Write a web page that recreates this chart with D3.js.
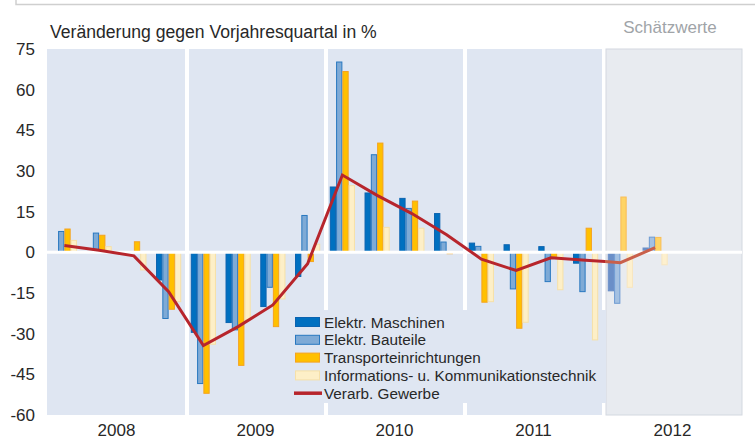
<!DOCTYPE html>
<html>
<head>
<meta charset="utf-8">
<script src="https://cdn.jsdelivr.net/npm/d3@7"></script>
<style>
  body { margin: 0; background: #fff; }
  text { font-family: "Liberation Sans", Arial, sans-serif; fill: #282828; }
</style>
</head>
<body>
<div id="chart"></div>
<script>
const years = ["2008", "2009", "2010", "2011", "2012"];
const quarters = years.flatMap(y => ["Q1", "Q2", "Q3", "Q4"].map(q => y + q));
const estimateYear = "2012";
const yTicks = [75, 60, 45, 30, 15, 0, -15, -30, -45, -60];

const seriesNames = ["Elektr. Maschinen", "Elektr. Bauteile", "Transporteinrichtungen",
  "Informations- u. Kommunikationstechnik"];
const lineName = "Verarb. Gewerbe";

// values per quarter, 2008Q1 .. 2012Q4
const maschinen = [0, 0, 0, -10.2, -29.5, -25.9, -20, -8.9, 24.1, 21.9, 19.9, 14.3,
  3.4, 2.8, 2.1, -4, -14.2, 1.6, null, null];
const bauteile = [7.7, 7.1, 0, -24.4, -48.4, -28.6, -12.9, 13.6, 70.2, 36, 16.2, 3.8,
  2.2, -13.5, -10.8, -14.5, -18.8, 5.6, null, null];
const transport = [8.6, 6.3, 3.9, -21, -52, -41.7, -27.4, -3.4, 66.7, 40.3, 18.9, -0.5,
  -18.4, -28, -1.5, 8.9, 20.4, 5.5, null, null];
const ikt = [4.4, 2.1, -6.5, -18.2, -33.9, -24.9, -17.2, 3, 24.6, 9.2, 8.9, 0,
  -18.2, -25.8, -13.8, -32.3, -12.9, -4.6, null, null];
const gewerbe = [2.5, 0.8, -1.3, -14.5, -34.4, -27.4, -19.4, -4.2, 28.5, 21, 14.3, 6.5,
  -2.5, -6.7, -2, -2.9, -3.8, 1.7, null, null];

const seriesValues = [maschinen, bauteile, transport, ikt];
const fills = ["#0070c0", "#7eaad6", "#ffc000", "#fdefc7"];
const strokes = ["#0b63b0", "#2878c0", "#f5a31f", "#f6e0a8"];
const fillsEst = ["#6a8fc8", "#a4c1e2", "#fed466", "#fdf0cf"];
const strokesEst = ["#6a8fc8", "#6e9bd2", "#f9bd55", "#f8e6bf"];
const lineColor = "#b7252c", lineColorEst = "#c9604b";

const width = 755, height = 439;
const plotLeft = 47, plotRight = 742, plotTop = 49, plotBottom = 415;

const svg = d3.select("#chart").append("svg")
    .attr("width", width)
    .attr("height", height);

const x = d3.scaleBand().domain(quarters).range([plotLeft, plotRight]);
const xs = d3.scaleBand().domain(d3.range(4))
    .range([0, x.bandwidth()]).paddingOuter(0.76);
const y = d3.scaleLinear().domain([-60, 75]).range([plotBottom, plotTop]);

// frame line at the top
svg.append("path")
    .attr("d", `M16,0V4.5H${width}`)
    .attr("fill", "none")
    .attr("stroke", "#cfcfcf")
    .attr("stroke-width", 1.5);

// year panels
const panel = svg.append("g").attr("class", "panels");
years.forEach((yr, i) => {
  const x0 = x(yr + "Q1") + (i > 0 ? 3 : 0);
  const x1 = x(yr + "Q4") + x.bandwidth() - (i < years.length - 1 ? 1 : 0);
  panel.append("rect")
      .attr("x", x0).attr("y", plotTop)
      .attr("width", x1 - x0).attr("height", plotBottom - plotTop)
      .attr("fill", yr === estimateYear ? "#e8ebf0" : "#dfe6f2")
      .attr("stroke", yr === estimateYear ? "#d3d8e0" : "none");
});

// legend background (covers the white gaps)
svg.append("rect")
    .attr("x", 290).attr("y", 310)
    .attr("width", x(estimateYear + "Q1") + 3 - 290).attr("height", 93)
    .attr("fill", "#dfe6f2");

// bars
const bars = svg.append("g").attr("class", "bars");
seriesValues.forEach((vals, s) => {
  bars.selectAll(null)
      .data(quarters.map((q, i) => ({q, v: vals[i]})).filter(d => d.v !== null))
      .enter().append("rect")
      .attr("x", d => x(d.q) + xs(s) + 0.5)
      .attr("width", xs.bandwidth() - 1)
      .attr("y", d => y(Math.max(0, d.v)))
      .attr("height", d => Math.abs(y(d.v) - y(0)))
      .attr("fill", d => d.q.startsWith(estimateYear) ? fillsEst[s] : fills[s])
      .attr("stroke", d => d.q.startsWith(estimateYear) ? strokesEst[s] : strokes[s])
      .attr("stroke-width", 1);
});

// zero line
svg.append("line")
    .attr("x1", plotLeft).attr("x2", plotRight)
    .attr("y1", y(0)).attr("y2", y(0))
    .attr("stroke", "#fff")
    .attr("stroke-width", 3);

// line series
const lineData = quarters.map((q, i) => ({q, v: gewerbe[i]})).filter(d => d.v !== null);
const line = d3.line()
    .x(d => x(d.q) + x.bandwidth() / 2)
    .y(d => y(d.v));

const estX = x(estimateYear + "Q1") + 2;
const defs = svg.append("defs");
defs.append("clipPath").attr("id", "clip-actual")
    .append("rect").attr("x", 0).attr("y", 0).attr("width", estX).attr("height", height);
defs.append("clipPath").attr("id", "clip-est")
    .append("rect").attr("x", estX).attr("y", 0).attr("width", width - estX).attr("height", height);

svg.append("path")
    .datum(lineData)
    .attr("d", line)
    .attr("fill", "none")
    .attr("stroke", lineColor)
    .attr("stroke-width", 3)
    .attr("clip-path", "url(#clip-actual)");
svg.append("path")
    .datum(lineData)
    .attr("d", line)
    .attr("fill", "none")
    .attr("stroke", lineColorEst)
    .attr("stroke-width", 3)
    .attr("clip-path", "url(#clip-est)");

// y axis labels
svg.append("g").selectAll("text")
    .data(yTicks)
    .enter().append("text")
    .attr("x", 35)
    .attr("y", d => y(d))
    .attr("dy", "0.36em")
    .attr("text-anchor", "end")
    .attr("font-size", 17)
    .text(d => d);

// x axis labels
svg.append("g").selectAll("text")
    .data(years)
    .enter().append("text")
    .attr("x", d => (x(d + "Q1") + x(d + "Q4") + x.bandwidth()) / 2)
    .attr("y", 436)
    .attr("text-anchor", "middle")
    .attr("font-size", 17)
    .text(d => d);

// titles
svg.append("text")
    .attr("x", 50).attr("y", 38)
    .attr("font-size", 17.6)
    .text("Veränderung gegen Vorjahresquartal in %");
svg.append("text")
    .attr("x", 670).attr("y", 33)
    .attr("text-anchor", "middle")
    .attr("font-size", 17)
    .style("fill", "#a0a4a8")
    .text("Schätzwerte");

// legend
const legend = svg.append("g").attr("class", "legend")
    .attr("transform", "translate(295, 322)");
seriesNames.forEach((name, i) => {
  const g = legend.append("g").attr("transform", `translate(0, ${i * 17.8})`);
  g.append("rect")
      .attr("x", 0.5).attr("y", -4.5)
      .attr("width", 24).attr("height", 9)
      .attr("fill", fills[i]).attr("stroke", strokes[i]);
  g.append("text")
      .attr("x", 29).attr("y", 0).attr("dy", "0.36em")
      .attr("font-size", 15.3)
      .text(name);
});
const lg = legend.append("g").attr("transform", `translate(0, ${4 * 17.8})`);
lg.append("line")
    .attr("x1", -1).attr("x2", 27)
    .attr("stroke", lineColor).attr("stroke-width", 3.5);
lg.append("text")
    .attr("x", 29).attr("y", 0).attr("dy", "0.36em")
    .attr("font-size", 15.3)
    .text(lineName);
</script>
</body>
</html>
